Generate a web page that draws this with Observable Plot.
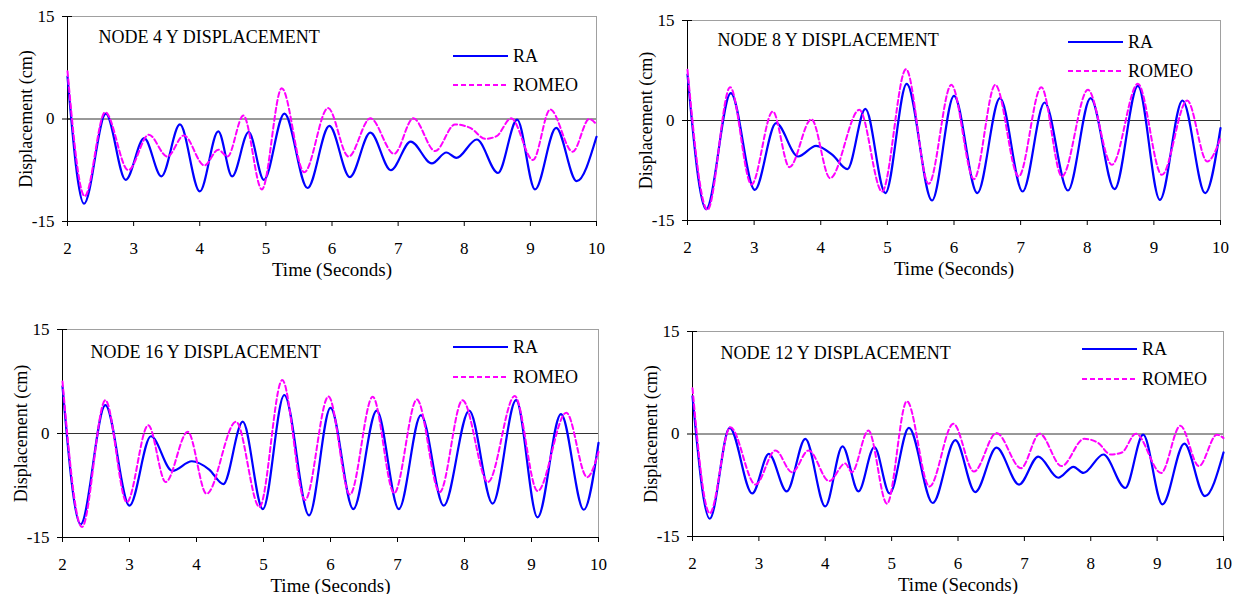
<!DOCTYPE html>
<html>
<head>
<meta charset="utf-8">
<script src="https://cdn.jsdelivr.net/npm/d3@7"></script>
<script src="https://cdn.jsdelivr.net/npm/@observablehq/plot@0.6"></script>
<style>
  html, body { margin: 0; padding: 0; background: #fff; }
  body { width: 1242px; height: 594px; position: relative; overflow: hidden;
         font-family: 'Liberation Serif', 'DejaVu Serif', serif; }
  .panel { position: absolute; }
  .legend { position: absolute; overflow: visible; }
  svg text { font-family: 'Liberation Serif', 'DejaVu Serif', serif !important; }
</style>
</head>
<body>
<script>
// ---- tick labels / categories ----
const timeTicks = [2, 3, 4, 5, 6, 7, 8, 9, 10];
const dispTicks = [-15, 0, 15];
const seriesNames = ["RA", "ROMEO"];
const titles = ["NODE 4 Y DISPLACEMENT", "NODE 8 Y DISPLACEMENT", "NODE 16 Y DISPLACEMENT", "NODE 12 Y DISPLACEMENT"];

// ---- series values: [time (s), displacement (cm)] ----
const node4RA = [[2,6.2],[2.25,-12.4],[2.58,0.8],[2.88,-8.9],[3.16,-2.8],[3.42,-8.4],[3.70,-0.8],[4.0,-10.6],[4.28,-1.8],[4.49,-8.4],[4.74,-1.9],[4.97,-8.9],[5.28,0.8],[5.63,-10.1],[5.96,-1.0],[6.27,-8.5],[6.58,-2.0],[6.89,-7.5],[7.19,-3.3],[7.51,-6.5],[7.73,-4.9],[7.88,-5.7],[8.19,-3.0],[8.51,-7.9],[8.80,-0.1],[9.07,-10.3],[9.39,-1.3],[9.70,-9.1],[10,-2.6]];
const node4ROMEO = [[2,7.0],[2.26,-11.3],[2.57,1.0],[2.92,-7.5],[3.23,-2.3],[3.51,-5.5],[3.76,-2.4],[4.07,-6.8],[4.28,-4.5],[4.42,-5.5],[4.66,0.5],[4.94,-10.3],[5.24,4.5],[5.58,-7.8],[5.94,1.6],[6.25,-5.5],[6.58,0.1],[6.94,-5.1],[7.23,0.1],[7.56,-4.7],[7.86,-0.8],[8.09,-1.3],[8.32,-2.9],[8.49,-2.5],[8.71,0.1],[9.04,-6.0],[9.30,1.4],[9.64,-4.8],[9.89,0.0],[10,-0.8]];

const node8RA = [[2,6.9],[2.28,-13.3],[2.65,4.1],[3.01,-10.4],[3.33,-0.4],[3.66,-5.4],[3.93,-3.8],[4.18,-5.2],[4.40,-7.3],[4.67,1.75],[4.97,-10.9],[5.29,5.5],[5.67,-12.0],[6.0,3.7],[6.35,-10.9],[6.69,3.35],[7.03,-10.65],[7.36,2.7],[7.71,-10.5],[8.05,3.35],[8.41,-10.3],[8.76,5.2],[9.09,-11.9],[9.43,3.0],[9.77,-10.9],[10,-1.15]];
const node8ROMEO = [[2,7.6],[2.30,-13.4],[2.64,5.0],[2.96,-9.6],[3.28,1.35],[3.53,-7.0],[3.86,0.2],[4.14,-8.65],[4.58,1.6],[4.92,-10.65],[5.28,7.7],[5.62,-9.5],[5.96,5.35],[6.30,-8.8],[6.62,5.35],[6.97,-8.4],[7.31,5.0],[7.62,-8.4],[8.01,4.6],[8.37,-6.65],[8.76,5.5],[9.12,-8.15],[9.50,3.0],[9.80,-6.15],[10,-2.65]];

const node16RA = [[2,6.8],[2.27,-13.1],[2.64,4.1],[3.0,-10.4],[3.32,-0.4],[3.64,-5.4],[3.93,-4.0],[4.19,-5.2],[4.40,-7.3],[4.69,1.7],[4.99,-10.9],[5.31,5.55],[5.68,-11.8],[6.0,3.7],[6.34,-10.9],[6.69,3.3],[7.02,-10.9],[7.35,2.65],[7.69,-10.4],[8.07,3.3],[8.42,-10.1],[8.77,4.8],[9.09,-12.1],[9.44,2.8],[9.78,-11.0],[10,-1.35]];
const node16ROMEO = [[2,7.5],[2.29,-13.5],[2.64,4.8],[2.96,-9.9],[3.28,1.2],[3.54,-7.0],[3.87,0.25],[4.15,-8.7],[4.59,1.7],[4.94,-10.6],[5.28,7.7],[5.62,-9.6],[5.97,5.35],[6.29,-8.8],[6.63,5.3],[6.95,-8.6],[7.29,4.9],[7.63,-8.45],[7.97,4.8],[8.35,-7.0],[8.75,5.4],[9.09,-8.3],[9.52,3.0],[9.83,-6.3],[10,-2.65]];

const node12RA = [[2,5.5],[2.26,-12.4],[2.56,0.9],[2.90,-8.7],[3.15,-2.9],[3.42,-8.4],[3.70,-0.7],[4.0,-10.6],[4.26,-1.8],[4.50,-8.4],[4.74,-1.9],[4.97,-8.7],[5.26,0.9],[5.62,-10.1],[5.96,-0.9],[6.26,-8.5],[6.58,-2.0],[6.92,-7.4],[7.21,-3.3],[7.51,-6.4],[7.74,-4.8],[7.89,-5.7],[8.19,-3.0],[8.52,-7.9],[8.79,-0.1],[9.08,-10.3],[9.41,-1.4],[9.72,-9.1],[10,-2.7]];
const node12ROMEO = [[2,6.7],[2.26,-11.6],[2.57,1.0],[2.95,-7.4],[3.25,-2.4],[3.50,-5.6],[3.75,-2.4],[4.06,-6.9],[4.30,-4.3],[4.40,-5.6],[4.65,0.5],[4.93,-10.2],[5.23,4.8],[5.57,-7.7],[5.93,1.5],[6.24,-5.5],[6.58,0.15],[6.95,-5.0],[7.23,0.05],[7.56,-4.7],[7.90,-0.7],[8.11,-1.3],[8.30,-3.0],[8.47,-2.7],[8.68,0.05],[9.06,-5.7],[9.35,1.2],[9.63,-4.7],[9.90,-0.1],[10,-0.6]];

// ---- layout (page pixels) ----
const FONT = "'Liberation Serif', 'DejaVu Serif', serif";
const RA_COLOR = "#0000ff", ROMEO_COLOR = "#ff00ff";
const panels = [
  {title: titles[0], ra: node4RA,  romeo: node4ROMEO,  frame: [67, 16, 596, 221],  titleOff: [31, 14], legend: [453, 56, 85]},
  {title: titles[1], ra: node8RA,  romeo: node8ROMEO,  frame: [687, 20, 1220, 220], titleOff: [30, 13], legend: [1068, 42, 71]},
  {title: titles[2], ra: node16RA, romeo: node16ROMEO, frame: [62, 329, 598, 537], titleOff: [28, 16], legend: [453, 347, 377]},
  {title: titles[3], ra: node12RA, romeo: node12ROMEO, frame: [692, 331, 1223, 536], titleOff: [28, 15], legend: [1082, 349, 379]}
];

const ML = 80, MR = 10, MT = 10, MB = 64;

for (const p of panels) {
  const [l, t, r, b] = p.frame;
  const fw = r - l, fh = b - t;
  const chart = Plot.plot({
    width: fw + ML + MR,
    height: fh + MT + MB,
    marginLeft: ML, marginRight: MR, marginTop: MT, marginBottom: MB,
    style: {fontFamily: FONT, fontSize: "17px", background: "transparent", color: "#000", overflow: "visible"},
    x: {domain: [2, 10]},
    y: {domain: [-15, 15]},
    marks: [
      Plot.frame({stroke: "#a0a0a0"}),
      Plot.ruleY([0], {stroke: "#333"}),
      Plot.ruleX([2], {stroke: "#000"}),
      Plot.ruleY([-15], {stroke: "#000"}),
      Plot.axisX({ticks: timeTicks, tickSize: 5, tickPadding: 15, tickFormat: d => String(d), label: null, fontSize: 17}),
      Plot.axisY({ticks: dispTicks, tickSize: 0, tickPadding: 13, tickFormat: d => String(d), label: null, fontSize: 17}),
      Plot.axisY({ticks: dispTicks, tickSize: 10, dx: 5, tickFormat: () => "", label: null}),
      Plot.line(p.ra, {stroke: RA_COLOR, strokeWidth: 2.2, curve: "monotone-x"}),
      Plot.line(p.romeo, {stroke: ROMEO_COLOR, strokeWidth: 2, strokeDasharray: "5,3", curve: "monotone-x"}),
      Plot.text([p.title], {frameAnchor: "top-left", dx: p.titleOff[0], dy: p.titleOff[1], textAnchor: "start", lineAnchor: "top", fontSize: 18}),
      Plot.text(["Time (Seconds)"], {frameAnchor: "bottom", dy: 54, textAnchor: "middle", lineAnchor: "bottom", fontSize: 19}),
      Plot.text(["Displacement (cm)"], {frameAnchor: "left", rotate: -90, dx: -48, textAnchor: "middle", lineAnchor: "top", fontSize: 18})
    ]
  });
  const div = document.createElement("div");
  div.className = "panel";
  div.style.left = (l - ML) + "px";
  div.style.top = (t - MT) + "px";
  div.appendChild(chart);
  document.body.appendChild(div);

  // legend (HTML/SVG overlay)
  const [lx, y1, y2] = p.legend;
  const ns = "http://www.w3.org/2000/svg";
  const svg = document.createElementNS(ns, "svg");
  svg.setAttribute("class", "legend");
  svg.setAttribute("width", 140);
  svg.setAttribute("height", 60);
  svg.style.left = lx + "px";
  svg.style.top = (y1 - 15) + "px";
  const entries = [
    {name: seriesNames[0], color: RA_COLOR, dash: null, y: 15},
    {name: seriesNames[1], color: ROMEO_COLOR, dash: "5,3", y: 15 + (y2 - y1)}
  ];
  for (const e of entries) {
    const ln = document.createElementNS(ns, "line");
    ln.setAttribute("x1", 0); ln.setAttribute("x2", 55);
    ln.setAttribute("y1", e.y); ln.setAttribute("y2", e.y);
    ln.setAttribute("stroke", e.color); ln.setAttribute("stroke-width", 2);
    if (e.dash) ln.setAttribute("stroke-dasharray", e.dash);
    svg.appendChild(ln);
    const tx = document.createElementNS(ns, "text");
    tx.setAttribute("x", 60); tx.setAttribute("y", e.y + 6);
    tx.setAttribute("font-size", 18);
    tx.textContent = e.name;
    svg.appendChild(tx);
  }
  document.body.appendChild(svg);
}
</script>
</body>
</html>
